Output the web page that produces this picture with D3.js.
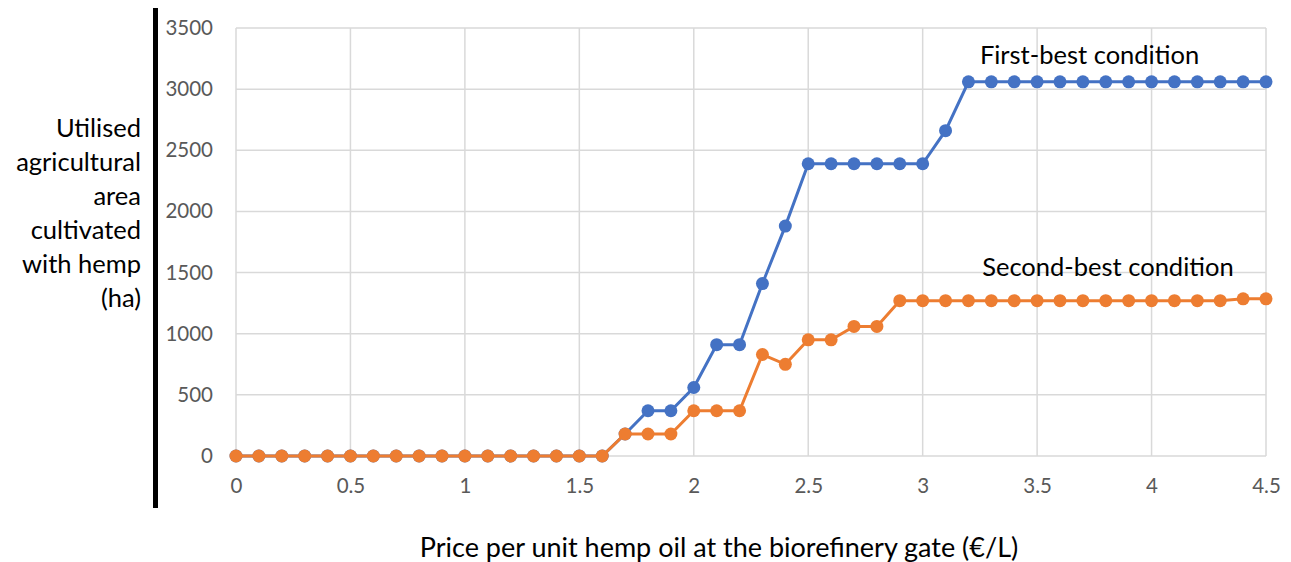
<!DOCTYPE html>
<html lang="en">
<head>
    <meta charset="UTF-8">
    <title>Hemp area vs oil price</title>
    <script src="https://d3js.org/d3.v7.min.js"></script>
    <style>
        body { margin: 0; background: #fff; }
        text { font-family: Lato, "Open Sans", sans-serif; }
        .tick text { fill: #595959; font-size: 20.5px; }
        .grid line { stroke: #d9d9d9; stroke-width: 1.5; }
        .lbl { fill: #000; font-size: 25.5px; }
    </style>
</head>
<body>
<div id="chart"></div>
<script>
    // prices (€/L) 0 .. 4.5 step 0.1
    const prices = [0, 0.1, 0.2, 0.3, 0.4, 0.5, 0.6, 0.7, 0.8, 0.9, 1, 1.1, 1.2, 1.3, 1.4, 1.5, 1.6, 1.7, 1.8, 1.9,
        2, 2.1, 2.2, 2.3, 2.4, 2.5, 2.6, 2.7, 2.8, 2.9, 3, 3.1, 3.2, 3.3, 3.4, 3.5, 3.6, 3.7, 3.8, 3.9,
        4, 4.1, 4.2, 4.3, 4.4, 4.5];

    const firstBest = [0, 0, 0, 0, 0, 0, 0, 0, 0, 0, 0, 0, 0, 0, 0, 0, 0, 180, 370, 370,
        560, 910, 910, 1410, 1880, 2390, 2390, 2390, 2390, 2390, 2390, 2660, 3060, 3060, 3060, 3060, 3060, 3060, 3060, 3060,
        3060, 3060, 3060, 3060, 3060, 3060];

    const secondBest = [0, 0, 0, 0, 0, 0, 0, 0, 0, 0, 0, 0, 0, 0, 0, 0, 0, 180, 180, 180,
        370, 370, 370, 830, 750, 950, 950, 1060, 1060, 1270, 1270, 1270, 1270, 1270, 1270, 1270, 1270, 1270, 1270, 1270,
        1270, 1270, 1270, 1270, 1285, 1285];

    const xTicks = [0, 0.5, 1, 1.5, 2, 2.5, 3, 3.5, 4, 4.5];
    const yTicks = [0, 500, 1000, 1500, 2000, 2500, 3000, 3500];
    const yLabelLines = ["Utilised", "agricultural", "area", "cultivated", "with hemp", "(ha)"];

    const W = 1291, H = 562;
    const margin = { left: 236, right: 25, top: 28, bottom: 106 };
    const width = W - margin.left - margin.right;
    const height = H - margin.top - margin.bottom;

    const svg = d3.select("#chart").append("svg")
        .attr("width", W)
        .attr("height", H);

    const g = svg.append("g")
        .attr("transform", `translate(${margin.left},${margin.top})`);

    const x = d3.scaleLinear().domain([0, 4.5]).range([0, width]);
    const y = d3.scaleLinear().domain([0, 3500]).range([height, 0]);

    // gridlines
    g.append("g").attr("class", "grid")
        .selectAll("line").data(yTicks).enter().append("line")
        .attr("x1", 0).attr("x2", width)
        .attr("y1", d => y(d)).attr("y2", d => y(d));
    g.append("g").attr("class", "grid")
        .selectAll("line").data(xTicks).enter().append("line")
        .attr("y1", 0).attr("y2", height)
        .attr("x1", d => x(d)).attr("x2", d => x(d));

    // axes (labels only)
    const xAxis = g.append("g")
        .attr("transform", `translate(0,${height})`)
        .call(d3.axisBottom(x).tickValues(xTicks).tickSize(0).tickPadding(22).tickFormat(d3.format("")));
    xAxis.select(".domain").remove();

    const yAxis = g.append("g")
        .call(d3.axisLeft(y).tickValues(yTicks).tickSize(0).tickPadding(23).tickFormat(d3.format("")));
    yAxis.select(".domain").remove();

    // series
    const series = [
        { name: "Second-best condition", values: secondBest, color: "#ED7D31" },
        { name: "First-best condition", values: firstBest, color: "#4472C4" }
    ];
    // draw blue first so orange sits on top where they overlap
    const order = [series[1], series[0]];

    const line = d3.line()
        .x((d, i) => x(prices[i]))
        .y(d => y(d));

    order.forEach(s => {
        g.append("path")
            .datum(s.values)
            .attr("fill", "none")
            .attr("stroke", s.color)
            .attr("stroke-width", 3)
            .attr("d", line);

        g.selectAll(null)
            .data(s.values)
            .enter().append("circle")
            .attr("cx", (d, i) => x(prices[i]))
            .attr("cy", d => y(d))
            .attr("r", 6.5)
            .attr("fill", s.color);
    });

    // series labels
    g.append("text").attr("class", "lbl")
        .attr("x", x(3.25)).attr("y", y(3280))
        .attr("dy", "0.35em")
        .text("First-best condition");
    g.append("text").attr("class", "lbl")
        .attr("x", x(3.26)).attr("y", y(1545))
        .attr("dy", "0.35em")
        .text("Second-best condition");

    // thick black bar left of the value axis
    svg.append("rect")
        .attr("x", 153).attr("y", 8)
        .attr("width", 5).attr("height", 500)
        .attr("fill", "#000");

    // y axis title, right aligned
    svg.append("g").selectAll("text")
        .data(yLabelLines).enter().append("text")
        .attr("class", "lbl")
        .attr("x", 141)
        .attr("y", (d, i) => 128 + i * 34)
        .attr("dy", "0.35em")
        .attr("text-anchor", "end")
        .text(d => d);

    // x axis title
    svg.append("text").attr("class", "lbl")
        .style("font-size", "27px")
        .attr("x", 719).attr("y", 548)
        .attr("dy", "0.35em")
        .attr("text-anchor", "middle")
        .text("Price per unit hemp oil at the biorefinery gate (€/L)");
</script>
</body>
</html>
